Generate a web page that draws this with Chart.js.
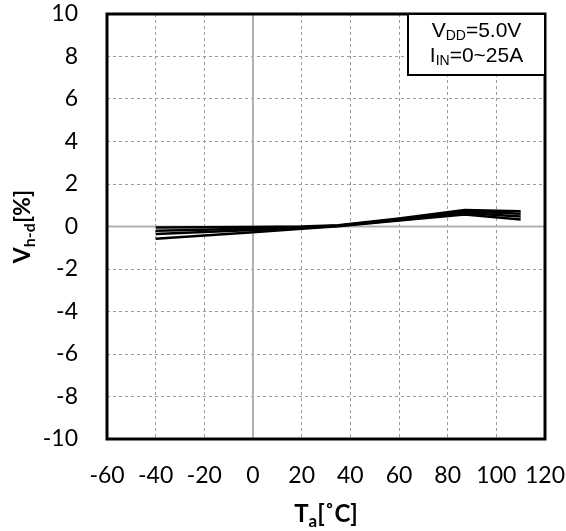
<!DOCTYPE html>
<html>
<head>
<meta charset="utf-8">
<script src="https://cdn.jsdelivr.net/npm/chart.js@4.4.1/dist/chart.umd.min.js"></script>
<style>
  html, body { margin: 0; padding: 0; background: #fff; }
  #wrap { width: 566px; height: 531px; }
</style>
</head>
<body>
<div id="wrap"><canvas id="myChart" width="566" height="531"></canvas></div>
<script>
// temperature points [°C]
const temps = [-40, -20, 0, 20, 35, 60, 87, 110];
// Vh-d [%] curves, one per current
const curveA = [-0.05, -0.04, -0.02, 0.0, 0.06, 0.38, 0.78, 0.72];
const curveB = [-0.20, -0.15, -0.09, -0.03, 0.04, 0.34, 0.70, 0.60];
const curveC = [-0.35, -0.26, -0.16, -0.07, 0.03, 0.31, 0.63, 0.47];
const curveD = [-0.58, -0.42, -0.27, -0.11, 0.01, 0.28, 0.56, 0.33];

const xTicks = [-60, -40, -20, 0, 20, 40, 60, 80, 100, 120];
const yTicks = [-10, -8, -6, -4, -2, 0, 2, 4, 6, 8, 10];

const tickFont = { family: 'Lato', size: 23 };

function toPoints(ys) {
  return temps.map((t, i) => ({ x: t, y: ys[i] }));
}

function lineSet(ys) {
  return {
    data: toPoints(ys),
    borderColor: '#000',
    borderWidth: 2.5,
    pointRadius: 0,
    tension: 0,
    fill: false
  };
}

// draws text pieces with subscripts, returns total width
function drawRich(ctx, parts, x, y, measureOnly) {
  let w = 0;
  parts.forEach(p => {
    ctx.font = p.font;
    if (!measureOnly) ctx.fillText(p.text, x + w, y + (p.dy || 0));
    w += ctx.measureText(p.text).width;
  });
  return w;
}

const extras = {
  id: 'extras',
  afterDraw(chart) {
    const ctx = chart.ctx;
    const a = chart.chartArea;
    ctx.save();
    ctx.fillStyle = '#000';
    ctx.textBaseline = 'alphabetic';

    // note box
    const bx = 408, by = a.top, bw = a.right - 408, bh = 61;
    ctx.fillStyle = '#fff';
    ctx.fillRect(bx, by, bw, bh);
    ctx.strokeStyle = '#000';
    ctx.lineWidth = 2;
    ctx.strokeRect(bx, by, bw, bh);
    ctx.fillStyle = '#000';
    const big = '21px "Liberation Sans"';
    const small = '14px "Liberation Sans"';
    const l1 = [{ text: 'V', font: big }, { text: 'DD', font: small, dy: 3 }, { text: '=5.0V', font: big }];
    const l2 = [{ text: 'I', font: big }, { text: 'IN', font: small, dy: 3 }, { text: '=0~25A', font: big }];
    const cx = bx + bw / 2;
    let w = drawRich(ctx, l1, 0, 0, true);
    drawRich(ctx, l1, cx - w / 2, by + 23);
    w = drawRich(ctx, l2, 0, 0, true);
    drawRich(ctx, l2, cx - w / 2, by + 48);

    // x axis title
    const tb = 'bold 24px Lato';
    const ts = 'bold 17px Lato';
    const xt = [{ text: 'T', font: tb }, { text: 'a', font: ts, dy: 5 }, { text: '[˚C]', font: tb }];
    w = drawRich(ctx, xt, 0, 0, true);
    drawRich(ctx, xt, (a.left + a.right) / 2 - w / 2, 522);

    // y axis title
    const yb = 'bold 23px Lato';
    const ys = 'bold 16px Lato';
    const yt = [{ text: 'V', font: yb }, { text: 'h-d', font: ys, dy: 5 }, { text: '[%]', font: yb }];
    ctx.translate(30, (a.top + a.bottom) / 2);
    ctx.rotate(-Math.PI / 2);
    w = drawRich(ctx, yt, 0, 0, true);
    drawRich(ctx, yt, -w / 2, 0);
    ctx.restore();
  }
};

const zeroLines = {
  id: 'zeroLines',
  beforeDatasetsDraw(chart) {
    const ctx = chart.ctx;
    const a = chart.chartArea;
    const x0 = chart.scales.x.getPixelForValue(0);
    const y0 = chart.scales.y.getPixelForValue(0);
    ctx.save();
    ctx.strokeStyle = '#b0b0b0';
    ctx.lineWidth = 2;
    ctx.beginPath();
    ctx.moveTo(a.left, y0);
    ctx.lineTo(a.right, y0);
    ctx.moveTo(x0, a.top);
    ctx.lineTo(x0, a.bottom);
    ctx.stroke();
    ctx.restore();
  }
};

const gridStyle = {
  color: ctx => (ctx.tick && ctx.tick.value === 0) ? 'rgba(0,0,0,0)' : '#9a9a9a',
  lineWidth: 1,
  drawTicks: false
};

new Chart(document.getElementById('myChart').getContext('2d'), {
  type: 'line',
  data: {
    datasets: [lineSet(curveA), lineSet(curveB), lineSet(curveC), lineSet(curveD)]
  },
  options: {
    responsive: false,
    animation: false,
    layout: { padding: { top: 14, right: 21, left: 0, bottom: 0 } },
    plugins: {
      legend: { display: false },
      tooltip: { enabled: false }
    },
    scales: {
      x: {
        type: 'linear',
        min: -60,
        max: 120,
        afterBuildTicks: s => { s.ticks = xTicks.map(v => ({ value: v })); },
        afterFit: s => { s.height = 92; s.paddingLeft = 0; s.paddingRight = 0; },
        ticks: { font: tickFont, color: '#000', padding: 23, maxRotation: 0 },
        grid: gridStyle,
        border: { display: false, dash: [3, 3] }
      },
      y: {
        min: -10,
        max: 10,
        afterBuildTicks: s => { s.ticks = yTicks.map(v => ({ value: v })); },
        afterFit: s => { s.width = 107; s.paddingTop = 0; s.paddingBottom = 0; },
        ticks: { font: tickFont, color: '#000', padding: 29 },
        grid: gridStyle,
        border: { display: false, dash: [3, 3] }
      }
    }
  },
  plugins: [zeroLines, extras, {
    id: 'frame',
    afterDatasetsDraw(chart) {
      const ctx = chart.ctx;
      const a = chart.chartArea;
      ctx.save();
      ctx.strokeStyle = '#000';
      ctx.lineWidth = 3;
      ctx.strokeRect(a.left, a.top, a.right - a.left, a.bottom - a.top);
      ctx.restore();
    }
  }]
});
</script>
</body>
</html>
